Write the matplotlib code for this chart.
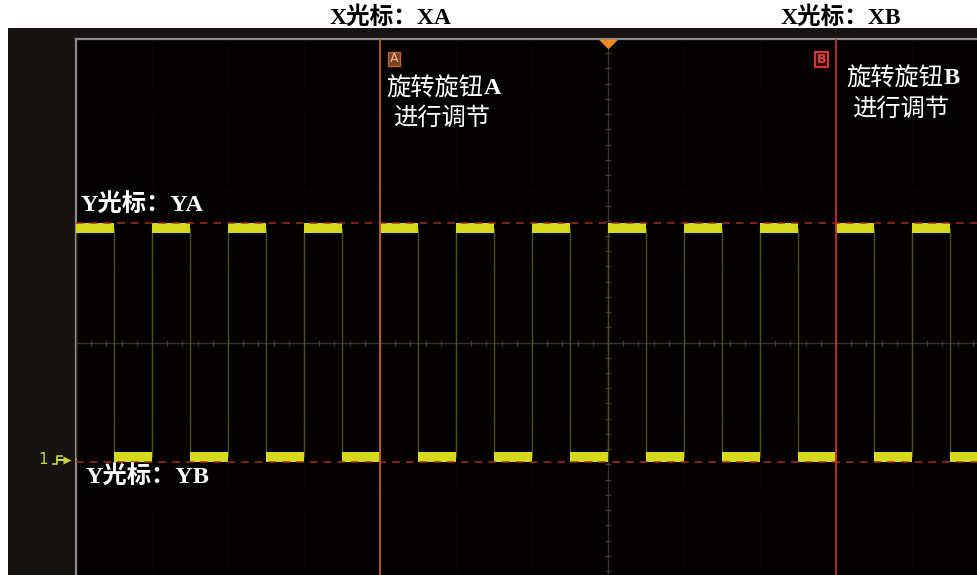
import matplotlib
matplotlib.use('Agg')
import matplotlib.pyplot as plt
from matplotlib.patches import Rectangle
from matplotlib.lines import Line2D
import numpy as np

# ---- data (in screen divisions, centre of screen = 0) ----
rising_edges = [-7, -6, -5, -4, -3, -2, -1, 0, 1, 2, 3, 4]
falling_edges = [-6.5, -5.5, -4.5, -3.5, -2.5, -1.5, -0.5, 0.5, 1.5, 2.5, 3.5, 4.5]
high_level = 1.5
low_level = -1.5
cursor_x_names = ['XA', 'XB']
cursor_x_pos = [-3.0, 3.0]
cursor_y_names = ['YA', 'YB']
cursor_y_pos = [1.57, -1.57]
trigger_pos = 0.0
x_range = (-7.0, 4.855)
y_range = (-3.053, 3.987)

W, H = 977, 575
fig = plt.figure(figsize=(W / 100, H / 100), dpi=100, facecolor='white')

def fx(px):
    return px / W

def fy(py):
    return 1 - py / H

# dark instrument frame
fig.add_artist(Rectangle((fx(8), 0), fx(W - 8), fy(28), transform=fig.transFigure,
                         facecolor='#171313', edgecolor='none', zorder=0))

ax = fig.add_axes([fx(76), 0, fx(W - 76), fy(39)])
ax.set_facecolor('#040101')
ax.set_xlim(*x_range)
ax.set_ylim(*y_range)
ax.set_xticks([])
ax.set_yticks([])
for s in ['right', 'bottom']:
    ax.spines[s].set_visible(False)
for s in ['top', 'left']:
    ax.spines[s].set_color('#8a8a8a')
    ax.spines[s].set_linewidth(1.6)

# faint grid
for gx in np.arange(-7, 5, 1):
    ax.axvline(gx, color='#1c1a1a', lw=0.6, ls=(0, (1, 4)), zorder=1)
for gy in np.arange(-3, 4, 1):
    ax.axhline(gy, color='#1c1a1a', lw=0.6, ls=(0, (1, 4)), zorder=1)
# centre cross with minor ticks
ax.axhline(0, color='#333030', lw=1.0, zorder=1)
ax.axvline(0, color='#333030', lw=1.0, zorder=1)
tk = np.arange(-7, 5.01, 0.2)
ax.vlines(tk, -0.04, 0.04, color='#3a3838', lw=1.0, zorder=1)
tky = np.arange(-3, 4.01, 0.2)
ax.hlines(tky, -0.04, 0.04, color='#3a3838', lw=1.0, zorder=1)

# signal edges
ax.vlines(rising_edges + falling_edges, low_level, high_level, color='#4e4e1a', lw=1.0, zorder=3)
# plateaus
ax.hlines([high_level] * len(rising_edges), rising_edges, falling_edges,
          color='#d6da1e', lw=7.2, zorder=4, capstyle='butt')
next_rise = rising_edges[1:] + [x_range[1]]
ax.hlines([low_level] * len(falling_edges), falling_edges, next_rise,
          color='#d6da1e', lw=7.2, zorder=4, capstyle='butt')

# Y cursors
for yv in cursor_y_pos:
    ax.axhline(yv, color='#a82c1c', lw=1.1, ls=(0, (5, 4)), zorder=5)
# X cursors
ax.axvline(cursor_x_pos[0], color='#b4602c', lw=1.3, zorder=5)
ax.axvline(cursor_x_pos[1], color='#c82a2a', lw=1.3, zorder=5)

# trigger marker
tri = [(-1, 0.5), (1, 0.5), (0, -0.5)]
ax.plot([trigger_pos], [y_range[1] - 0.07], marker=tri, ms=14, color='#f08a1e',
        mec='none', clip_on=False, zorder=6)

# cursor tags
fig.add_artist(Rectangle((fx(388), fy(66)), fx(12), fy(52) - fy(66), transform=fig.transFigure,
                         facecolor='#7a4224', edgecolor='#c0642e', lw=1, zorder=7))
fig.text(fx(394), fy(59), 'A', color='#e8b890', fontsize=9, ha='center', va='center', zorder=8)
fig.add_artist(Rectangle((fx(815), fy(67)), fx(13), fy(52) - fy(67), transform=fig.transFigure,
                         facecolor='#2a0808', edgecolor='#d83434', lw=1.5, zorder=7))
fig.text(fx(821.5), fy(59.5), 'B', color='#e84040', fontsize=9, ha='center', va='center',
         weight='bold', zorder=8)

fam = ['Liberation Serif', 'Noto Sans CJK SC']
# top labels
fig.text(fx(391), fy(18), 'X光标：' + cursor_x_names[0], color='black', fontsize=17,
         weight='bold', family=fam, ha='center', va='center')
fig.text(fx(841), fy(18), 'X光标：' + cursor_x_names[1], color='black', fontsize=17,
         weight='bold', family=fam, ha='center', va='center')
# knob hints
fig.text(fx(386), fy(89), '旋转旋钮', color='white', fontsize=17.5, family=fam,
         ha='left', va='center', zorder=9)
fig.text(fx(484), fy(89), 'A', color='white', fontsize=17.5, family=fam, weight='bold',
         ha='left', va='center', zorder=9)
fig.text(fx(442), fy(119), '进行调节', color='white', fontsize=17.5, family=fam,
         ha='center', va='center', zorder=9)
fig.text(fx(846), fy(79), '旋转旋钮', color='white', fontsize=17.5, family=fam,
         ha='left', va='center', zorder=9)
fig.text(fx(944), fy(79), 'B', color='white', fontsize=17.5, family=fam, weight='bold',
         ha='left', va='center', zorder=9)
fig.text(fx(901), fy(110), '进行调节', color='white', fontsize=17.5, family=fam,
         ha='center', va='center', zorder=9)
# Y cursor labels
fig.text(fx(142), fy(204), 'Y光标：' + cursor_y_names[0], color='white', fontsize=17.5,
         weight='bold', family=fam, ha='center', va='center', zorder=9)
fig.text(fx(148), fy(476), 'Y光标：' + cursor_y_names[1], color='white', fontsize=17.5,
         weight='bold', family=fam, ha='center', va='center', zorder=9)

# channel 1 marker
fig.text(fx(43), fy(459), '1', color='#c8d23c', fontsize=11, ha='center', va='center')
fig.add_artist(Line2D([fx(53), fx(57), fx(57), fx(62)], [fy(464), fy(464), fy(456), fy(456)],
                      transform=fig.transFigure, color='#c8d23c', lw=1.2))
fig.add_artist(Line2D([fx(57), fx(66)], [fy(460), fy(460)], transform=fig.transFigure,
                      color='#c8d23c', lw=1.5))
fig.add_artist(Line2D([fx(67)], [fy(460)], transform=fig.transFigure, marker='>', ms=6,
                      color='#c8d23c', mec='none'))

fig.savefig('out.png', dpi=100, facecolor='white')
